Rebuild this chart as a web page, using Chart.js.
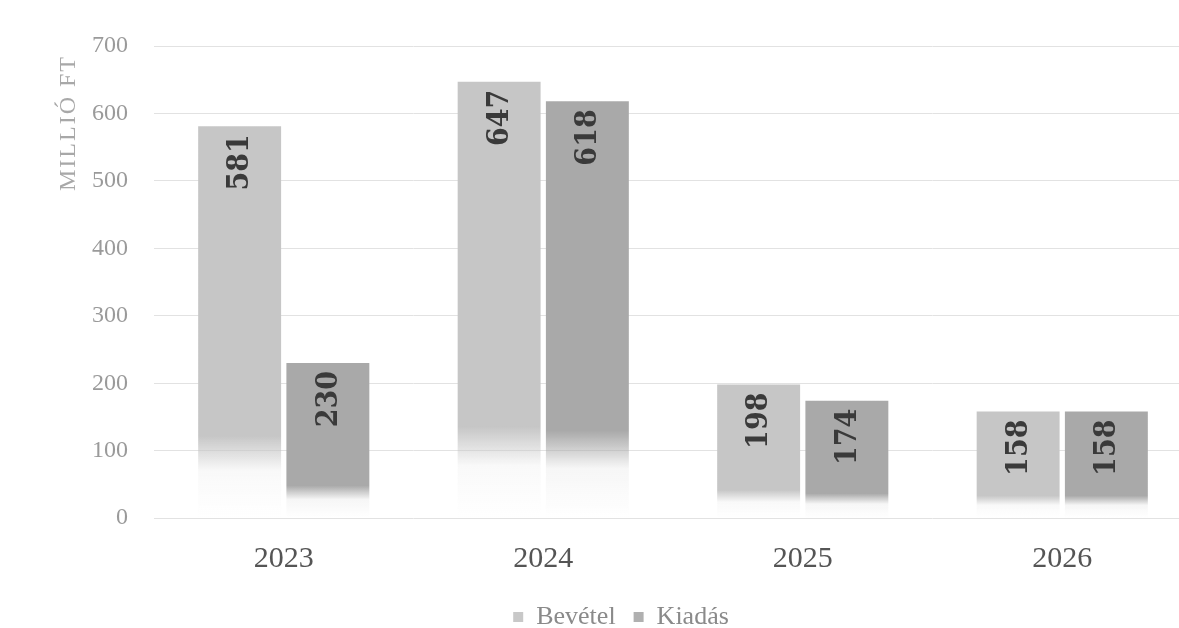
<!DOCTYPE html>
<html lang="hu">
<head>
    <meta charset="UTF-8">
    <title>Bevétel és kiadás</title>
    <script src="https://cdn.jsdelivr.net/npm/chart.js"></script>
    <style>
        html, body { margin: 0; padding: 0; background: #fff; overflow: hidden; }
        .wrap { width: 1196px; height: 628px; position: relative; }
    </style>
</head>
<body>
    <div class="wrap"><canvas id="chart"></canvas></div>

    <script>
        // adatok
        const years = ["2023", "2024", "2025", "2026"];
        const bevetel = [581, 647, 198, 158];
        const kiadas = [230, 618, 174, 158];
        const yTicks = [0, 100, 200, 300, 400, 500, 600, 700];
        const yTitle = "MILLIÓ FT";

        const SERIF = "'Liberation Serif', 'DejaVu Serif', serif";
        const LABEL_FONT = "bold 30px 'DejaVu Serif Condensed', 'DejaVu Serif', serif";

        // oszlop színátmenet: alul kifakul
        function fade(color) {
            return function(context) {
                const chart = context.chart;
                if (!chart.chartArea || context.parsed == null) return color;
                const y = chart.scales.y;
                const top = y.getPixelForValue(context.parsed.y);
                const base = y.getPixelForValue(0);
                if (!isFinite(top) || base - top < 2) return color;
                const g = chart.ctx.createLinearGradient(0, top, 0, base);
                g.addColorStop(0, color);
                g.addColorStop(0.79, color);
                g.addColorStop(0.83, color.replace("1)", "0.6)"));
                g.addColorStop(0.88, color.replace("1)", "0.1)"));
                g.addColorStop(1, color.replace("1)", "0)"));
                return g;
            };
        }

        const valueLabels = {
            id: "valueLabels",
            afterDatasetsDraw(chart) {
                const ctx = chart.ctx;
                chart.data.datasets.forEach((ds, i) => {
                    const meta = chart.getDatasetMeta(i);
                    meta.data.forEach((bar, j) => {
                        ctx.save();
                        ctx.translate(bar.x, bar.y + 8);
                        ctx.rotate(-Math.PI / 2);
                        ctx.font = LABEL_FONT;
                        ctx.fillStyle = "#3a3a3a";
                        ctx.textAlign = "right";
                        ctx.textBaseline = "middle";
                        ctx.fillText(ds.data[j], 0, 1);
                        ctx.restore();
                    });
                });
            }
        };

        // y tengely címe, ritkított betűkkel
        const axisTitle = {
            id: "axisTitle",
            afterDraw(chart) {
                const ctx = chart.ctx;
                ctx.save();
                ctx.translate(75, chart.chartArea.top + 9);
                ctx.rotate(-Math.PI / 2);
                ctx.font = "24px " + SERIF;
                ctx.letterSpacing = "2px";
                ctx.fillStyle = "#a8a8a8";
                ctx.textAlign = "right";
                ctx.textBaseline = "alphabetic";
                ctx.fillText(yTitle, 0, 0);
                ctx.restore();
            }
        };

        // jelmagyarázat kicsit feljebb
        const legendNudge = {
            id: "legendNudge",
            afterLayout(chart) {
                if (chart.legend) {
                    chart.legend.top -= 15;
                    chart.legend.bottom -= 15;
                }
            }
        };

        new Chart(document.getElementById("chart"), {
            type: "bar",
            data: {
                labels: years,
                datasets: [
                    { label: "Bevétel", data: bevetel, backgroundColor: fade("rgba(198,198,198,1)") },
                    { label: "Kiadás", data: kiadas, backgroundColor: fade("rgba(169,169,169,1)") }
                ]
            },
            options: {
                responsive: true,
                maintainAspectRatio: false,
                animation: false,
                layout: { padding: { left: 50, right: 4, top: 46, bottom: -27 } },
                datasets: { bar: { categoryPercentage: 0.68, barPercentage: 0.94 } },
                plugins: {
                    tooltip: { enabled: false },
                    legend: {
                        position: "bottom",
                        labels: {
                            boxWidth: 10,
                            boxHeight: 10,
                            padding: 18,
                            color: "#8a8a8a",
                            font: { family: SERIF, size: 26, lineHeight: 1 },
                            generateLabels(chart) {
                                return chart.data.datasets.map((ds, i) => ({
                                    text: ds.label,
                                    fillStyle: i === 0 ? "#c8c8c8" : "#b0b0b0",
                                    strokeStyle: "transparent",
                                    lineWidth: 0,
                                    fontColor: "#8a8a8a",
                                    datasetIndex: i
                                }));
                            }
                        }
                    }
                },
                scales: {
                    x: {
                        grid: { display: false, drawTicks: false },
                        border: { display: false },
                        ticks: { color: "#555", font: { family: SERIF, size: 30, lineHeight: 0.63 }, padding: 32 }
                    },
                    y: {
                        min: 0,
                        max: 700,
                        afterBuildTicks(scale) { scale.ticks = yTicks.map(v => ({ value: v })); },
                        afterFit(scale) { scale.width = 104; },
                        grid: { color: "#e2e2e2", drawTicks: false },
                        border: { display: false },
                        ticks: { color: "#9a9a9a", font: { family: SERIF, size: 24 }, padding: 26 }
                    }
                }
            },
            plugins: [valueLabels, axisTitle, legendNudge]
        });
    </script>
</body>
</html>
